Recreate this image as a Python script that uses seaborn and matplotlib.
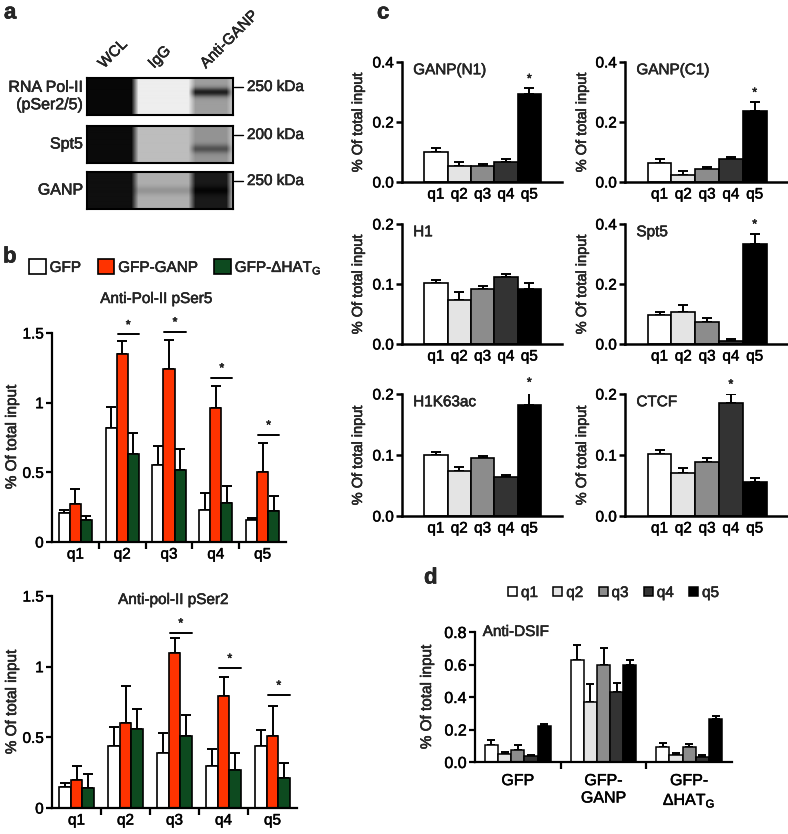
import numpy as np
import pandas as pd
import matplotlib
matplotlib.use('Agg')
import matplotlib.pyplot as plt
import matplotlib.patheffects as pe
import seaborn as sns
from matplotlib.patches import Patch
from matplotlib.ticker import FormatStrFormatter

sns.set_theme(style='ticks')
plt.rcParams['font.family'] = ['Liberation Sans', 'DejaVu Sans']
plt.rcParams['mathtext.fontset'] = 'custom'
plt.rcParams['mathtext.rm'] = 'Liberation Sans'

# ---- panel a: western blot ----
lanes = ['WCL', 'IgG', 'Anti-GANP']
blot_rows = ['RNA Pol-II\n(pSer2/5)', 'Spt5', 'GANP']
blot_markers = ['250 kDa', '200 kDa', '250 kDa']
lane_gray = [[0.03, 0.93, 0.62],
             [0.04, 0.74, 0.58],
             [0.06, 0.68, 0.10]]
band_row = [0.38, 0.62, 0.5]
band_gray = [0.12, 0.32, 0.02]
igg_band_gray = [0.93, 0.74, 0.58]

# ---- panel b ----
quintiles = ['q1', 'q2', 'q3', 'q4', 'q5']
constructs = ['GFP', 'GFP-GANP', 'GFP-ΔHAT']
construct_labels = ['GFP', 'GFP-GANP', r'GFP-ΔHAT$_\mathregular{G}$']

pser5_gfp = [0.21, 0.82, 0.55, 0.23, 0.16]
pser5_gfp_err = [0.02, 0.15, 0.14, 0.12, 0.01]
pser5_ganp = [0.27, 1.35, 1.24, 0.96, 0.50]
pser5_ganp_err = [0.11, 0.09, 0.21, 0.16, 0.21]
pser5_dhat = [0.16, 0.63, 0.52, 0.28, 0.22]
pser5_dhat_err = [0.03, 0.15, 0.15, 0.12, 0.11]
pser5_sig = ['q2', 'q3', 'q4', 'q5']
pser5_sig_y = [1.49, 1.51, 1.18, 0.77]

pser2_gfp = [0.15, 0.44, 0.39, 0.30, 0.44]
pser2_gfp_err = [0.03, 0.13, 0.14, 0.12, 0.11]
pser2_ganp = [0.20, 0.60, 1.10, 0.79, 0.51]
pser2_ganp_err = [0.10, 0.26, 0.10, 0.14, 0.21]
pser2_dhat = [0.14, 0.56, 0.51, 0.27, 0.21]
pser2_dhat_err = [0.10, 0.14, 0.15, 0.12, 0.11]
pser2_sig = ['q3', 'q4', 'q5']
pser2_sig_y = [1.24, 0.99, 0.80]

# ---- panel c ----
c_names = ['GANP(N1)', 'GANP(C1)', 'H1', 'Spt5', 'H1K63ac', 'CTCF']
ganp_n1 = [0.099, 0.054, 0.052, 0.067, 0.295]
ganp_n1_err = [0.013, 0.012, 0.007, 0.009, 0.017]
ganp_c1 = [0.065, 0.024, 0.043, 0.076, 0.236]
ganp_c1_err = [0.012, 0.014, 0.007, 0.008, 0.030]
h1 = [0.101, 0.074, 0.092, 0.112, 0.092]
h1_err = [0.006, 0.012, 0.004, 0.004, 0.009]
spt5 = [0.098, 0.108, 0.073, 0.011, 0.333]
spt5_err = [0.009, 0.022, 0.015, 0.007, 0.034]
h1k63ac = [0.0995, 0.074, 0.095, 0.0635, 0.182]
h1k63ac_err = [0.006, 0.006, 0.003, 0.004, 0.021]
ctcf = [0.102, 0.071, 0.089, 0.186, 0.056]
ctcf_err = [0.006, 0.008, 0.006, 0.014, 0.007]
c_ymax = [0.4, 0.4, 0.2, 0.4, 0.2, 0.2]
c_star = ['q5', 'q5', None, 'q5', 'q5', 'q4']

# ---- panel d ----
d_groups = ['GFP', 'GFP-\nGANP', 'GFP-\nΔHAT$_\\mathregular{G}$']
dsif_gfp = [0.107, 0.049, 0.074, 0.035, 0.219]
dsif_gfp_err = [0.026, 0.015, 0.033, 0.008, 0.017]
dsif_ganp = [0.630, 0.371, 0.599, 0.429, 0.595]
dsif_ganp_err = [0.088, 0.107, 0.101, 0.057, 0.035]
dsif_dhat = [0.092, 0.043, 0.092, 0.031, 0.265]
dsif_dhat_err = [0.025, 0.014, 0.019, 0.012, 0.018]

b_colors = ['white', '#ff3300', '#0d4a1f']
q_colors = ['white', '#e4e4e4', '#8c8c8c', '#333333', 'black']

W, H = 788, 834
fig = plt.figure(figsize=(W / 100, H / 100), dpi=100)


def box(l, t, r, b):
    return [l / W, 1 - b / H, (r - l) / W, (b - t) / H]


def ftext(x, y, s, **kw):
    fig.text(x / W, 1 - y / H, s, **kw)


def style_axes(ax, lw=1.6, size=10.5):
    sns.despine(ax=ax)
    for sp in ['left', 'bottom']:
        ax.spines[sp].set_linewidth(lw)
        ax.spines[sp].set_color('black')
    ax.tick_params(axis='y', length=4, width=lw, labelsize=size, pad=2, colors='black')
    ax.tick_params(axis='x', which='major', length=0, labelsize=size, pad=4, colors='black')
    ax.set_xlabel('')
    ax.set_ylabel('')
    ax.set_facecolor('none')


def add_errors(ax, bars, errs, cap=3.5):
    xs = [p.get_x() + p.get_width() / 2 for p in bars]
    hs = [p.get_height() for p in bars]
    ax.errorbar(xs, hs, yerr=[np.zeros(len(errs)), errs], fmt='none', ecolor='black',
                elinewidth=1.4, capsize=cap, capthick=1.4, zorder=1)


# ---------------- panel a ----------------
def blot_image(i, n_rows=40):
    y = np.linspace(0, 1, n_rows)[:, None]
    g = np.exp(-((y - band_row[i]) / 0.12) ** 2)
    wcl = np.full_like(y, lane_gray[i][0])
    igg = lane_gray[i][1] + (igg_band_gray[i] - lane_gray[i][1]) * g
    anti = lane_gray[i][2] + (band_gray[i] - lane_gray[i][2]) * g
    img = np.hstack([np.repeat(wcl, 48, 1), np.repeat(igg, 57, 1), np.repeat(anti, 38, 1),
                     np.repeat(np.full_like(y, 0.8), 4, 1)])
    k = np.ones(7) / 7
    img = np.array([np.convolve(np.pad(r, 3, mode='edge'), k, mode='valid') for r in img])
    return img


blot_tops = [78, 126, 172]
for i in range(3):
    t = blot_tops[i]
    ax = fig.add_axes(box(87, t, 233, t + 37))
    ax.imshow(blot_image(i), cmap='gray', vmin=0, vmax=1, aspect='auto', interpolation='bilinear')
    ax.set_xticks([])
    ax.set_yticks([])
    for sp in ax.spines.values():
        sp.set_linewidth(1.5)
        sp.set_color('black')
    ftext(83, t + 18, blot_rows[i], ha='right', va='center', fontsize=11.5, linespacing=1.2)
    fig.add_artist(plt.Line2D([234 / W, 243 / W], [1 - (t + 9) / H] * 2, color='black', lw=1))
    ftext(247, t + 9, blot_markers[i], ha='left', va='center', fontsize=11)

for x0, name in zip([106, 156, 208], lanes):
    ftext(x0, 71, name, rotation=45, ha='left', va='bottom', rotation_mode='anchor', fontsize=11)

ftext(4, 13, 'a', fontsize=16, fontweight='bold', ha='left', va='center')


# ---------------- panel b ----------------
def draw_b(ax, means, errs, sig_q, sig_y):
    df = pd.DataFrame({'quintile': quintiles * 3,
                       'construct': np.repeat(constructs, 5),
                       'value': np.concatenate(means)})
    sns.barplot(data=df, x='quintile', y='value', hue='construct', palette=b_colors,
                edgecolor='black', linewidth=1.2, width=0.71, errorbar=None,
                legend=False, saturation=1, ax=ax, zorder=2)
    for cont, err in zip(ax.containers, errs):
        add_errors(ax, cont, err, cap=3.5)
    for q, yv in zip(sig_q, sig_y):
        g = quintiles.index(q)
        x0 = ax.containers[1][g].get_x() + 0.02
        x1 = ax.containers[2][g].get_x() + ax.containers[2][g].get_width()
        ax.plot([x0, x1], [yv, yv], color='black', lw=1.4, clip_on=False)
        ax.text((x0 + x1) / 2, yv + 0.02, '*', ha='center', va='bottom', fontsize=9)
    ax.set_xlim(-0.5, 4.5)
    ax.set_ylim(0, 1.5)
    ax.set_yticks([0, 0.5, 1, 1.5])
    ax.yaxis.set_major_formatter(FormatStrFormatter('%g'))
    style_axes(ax, lw=1.6, size=11)
    ax.set_xticks([0.5, 1.5, 2.5, 3.5], minor=True)
    ax.tick_params(axis='x', which='minor', length=5, width=1.6, color='black')


ax_b1 = fig.add_axes(box(52, 333, 286, 542))
draw_b(ax_b1, [pser5_gfp, pser5_ganp, pser5_dhat],
       [pser5_gfp_err, pser5_ganp_err, pser5_dhat_err], pser5_sig, pser5_sig_y)
ftext(156, 299, 'Anti-Pol-II pSer5', ha='center', va='center', fontsize=11)
ftext(12, 437, '% Of total input', rotation=90, ha='center', va='center', fontsize=11)

ax_b2 = fig.add_axes(box(52, 596, 297, 808))
draw_b(ax_b2, [pser2_gfp, pser2_ganp, pser2_dhat],
       [pser2_gfp_err, pser2_ganp_err, pser2_dhat_err], pser2_sig, pser2_sig_y)
ftext(173, 600, 'Anti-pol-II pSer2', ha='center', va='center', fontsize=11)
ftext(12, 702, '% Of total input', rotation=90, ha='center', va='center', fontsize=11)

ftext(3, 257, 'b', fontsize=16, fontweight='bold', ha='left', va='center')
fig.legend(handles=[Patch(facecolor=c, edgecolor='black', linewidth=1.2) for c in b_colors],
           labels=construct_labels, loc='center left', bbox_to_anchor=(29 / W, 1 - 268 / H),
           ncol=3, frameon=False, fontsize=11, handlelength=1.1, handleheight=1.1,
           handletextpad=0.25, columnspacing=1.1, borderpad=0, borderaxespad=0)

# ---------------- panel c ----------------
c_means = [ganp_n1, ganp_c1, h1, spt5, h1k63ac, ctcf]
c_errs = [ganp_n1_err, ganp_c1_err, h1_err, spt5_err, h1k63ac_err, ctcf_err]
c_rows = [(62, 182), (224, 344), (394, 516)]
c_cols = [(402, 562, 358), (625, 788, 582)]

for k in range(6):
    r, c = divmod(k, 2)
    t, b = c_rows[r]
    l, rr, lab_x = c_cols[c]
    ax = fig.add_axes(box(l, t, rr, b))
    df = pd.DataFrame({'quintile': quintiles, 'value': c_means[k]})
    sns.barplot(data=df, x='quintile', y='value', hue='quintile', palette=q_colors,
                edgecolor='black', linewidth=1.2, width=1.0, errorbar=None,
                legend=False, saturation=1, ax=ax, zorder=2)
    bars = sorted(ax.patches, key=lambda p: p.get_x())
    add_errors(ax, bars, c_errs[k], cap=3.5)
    if c_star[k] is not None:
        j = quintiles.index(c_star[k])
        ax.text(j, c_means[k][j] + c_errs[k][j] + c_ymax[k] * 0.025, '*',
                ha='center', va='bottom', fontsize=9)
    ax.set_xlim(-1.45, 5.4)
    ax.set_ylim(0, c_ymax[k])
    ax.set_yticks([0, c_ymax[k] / 2, c_ymax[k]])
    ax.yaxis.set_major_formatter(FormatStrFormatter('%.1f'))
    style_axes(ax, lw=1.8, size=11)
    ax.text(0.07, 0.99, c_names[k], transform=ax.transAxes, ha='left', va='top', fontsize=11)
    ftext(lab_x, (t + b) / 2, '% Of total input', rotation=90, ha='center', va='center', fontsize=10.5)

ftext(377, 13, 'c', fontsize=16, fontweight='bold', ha='left', va='center')

# ---------------- panel d ----------------
ax_d = fig.add_axes(box(475, 632, 732, 762))
df_d = pd.DataFrame({'group': np.tile(d_groups, 5),
                     'quintile': np.repeat(quintiles, 3),
                     'value': np.array([dsif_gfp, dsif_ganp, dsif_dhat]).T.ravel()})
sns.barplot(data=df_d, x='group', y='value', hue='quintile', palette=q_colors,
            edgecolor='black', linewidth=1.1, width=0.77, errorbar=None,
            legend=False, saturation=1, ax=ax_d, zorder=2)
d_err = np.array([dsif_gfp_err, dsif_ganp_err, dsif_dhat_err]).T
for cont, err in zip(ax_d.containers, d_err):
    add_errors(ax_d, cont, err, cap=3)
ax_d.set_xlim(-0.5, 2.5)
ax_d.set_ylim(0, 0.8)
ax_d.set_yticks([0, 0.2, 0.4, 0.6, 0.8])
ax_d.yaxis.set_major_formatter(FormatStrFormatter('%.1f'))
style_axes(ax_d, lw=1.6, size=11.5)
ax_d.tick_params(axis='x', which='major', pad=8)
ax_d.set_xticks([0.5, 1.5], minor=True)
ax_d.tick_params(axis='x', which='minor', length=5, width=1.6, color='black')
ax_d.text(0.03, 1.0, 'Anti-DSIF', transform=ax_d.transAxes, ha='left', va='center', fontsize=11)
ftext(427, 697, '% Of total input', rotation=90, ha='center', va='center', fontsize=11)

ftext(424, 578, 'd', fontsize=16, fontweight='bold', ha='left', va='center')
fig.legend(handles=[Patch(facecolor=c, edgecolor='black', linewidth=1.1) for c in q_colors],
           labels=quintiles, loc='center left', bbox_to_anchor=(508 / W, 1 - 593 / H),
           ncol=5, frameon=False, fontsize=11, handlelength=0.6, handleheight=0.6,
           handletextpad=0.25, columnspacing=1.0, borderpad=0, borderaxespad=0)

# slightly heavier strokes on text, like the printed figure
for txt in fig.findobj(matplotlib.text.Text):
    if txt.get_text():
        txt.set_path_effects([pe.withStroke(linewidth=0.35, foreground='black')])

fig.savefig('out.png', dpi=100, facecolor='white')
